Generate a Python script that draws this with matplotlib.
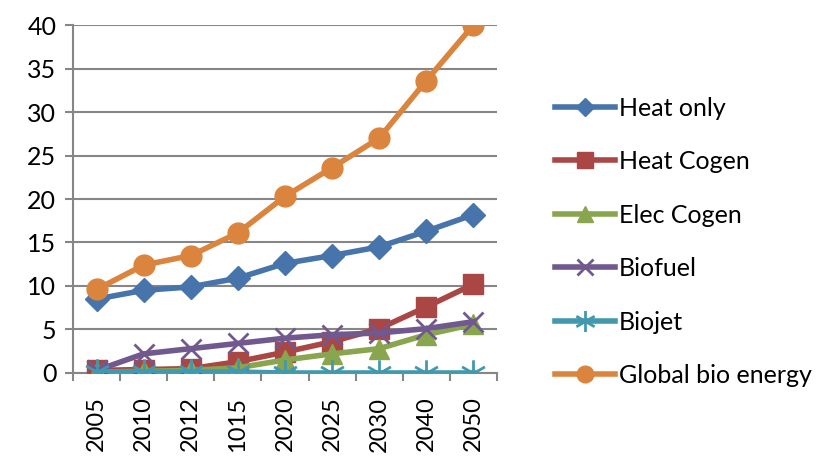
import numpy as np
import matplotlib.pyplot as plt
from matplotlib.path import Path

plt.rcParams['font.family'] = ['Lato', 'DejaVu Sans']

years = ['2005', '2010', '2012', '1015', '2020', '2025', '2030', '2040', '2050']

heat_only = [8.5, 9.5, 9.9, 10.9, 12.6, 13.5, 14.5, 16.3, 18.2]
heat_cogen = [0.3, 0.4, 0.5, 1.3, 2.4, 3.6, 5.1, 7.6, 10.2]
elec_cogen = [0.1, 0.2, 0.3, 0.6, 1.5, 2.2, 2.8, 4.4, 5.6]
biofuel = [0.3, 2.2, 2.8, 3.4, 4.0, 4.4, 4.6, 5.1, 5.9]
biojet = [0.1, 0.1, 0.1, 0.1, 0.0, 0.0, 0.0, 0.0, 0.0]
global_bio = [9.6, 12.4, 13.5, 16.1, 20.3, 23.6, 27.0, 33.6, 40.0]

# Excel style asterisk: three crossing strokes
verts, codes = [], []
for a in np.deg2rad([90, 30, 150]):
    verts += [(np.cos(a), np.sin(a)), (-np.cos(a), -np.sin(a))]
    codes += [Path.MOVETO, Path.LINETO]
star = Path(verts, codes)

series = [
    ('Heat only', heat_only, '#4674AB', 'D', 12),
    ('Heat Cogen', heat_cogen, '#AA4643', 's', 14),
    ('Elec Cogen', elec_cogen, '#89A54E', '^', 14),
    ('Biofuel', biofuel, '#71588F', 'x', 14),
    ('Biojet', biojet, '#4198AF', star, 19),
    ('Global bio energy', global_bio, '#DB843D', 'o', 15),
]

fig = plt.figure(figsize=(8.33, 4.58), dpi=100)
ax = fig.add_axes([0.0876, 0.1856, 0.509, 0.7598])

x = list(range(len(years)))
for name, vals, col, mk, ms in series:
    if name in ('Biofuel', 'Biojet'):
        # line-type markers need a thick stroke
        ax.plot(x, vals, color=col, lw=4, marker=mk, ms=ms, mew=2,
                label=name, zorder=3)
    else:
        ax.plot(x, vals, color=col, lw=4, marker=mk, ms=ms, mec=col,
                label=name, zorder=3)

ax.set_ylim(0, 40)
ax.set_yticks(range(0, 41, 5))
ax.set_xlim(-0.5, len(years) - 0.5)
ax.set_xticks(x)
ax.set_xticklabels(years, rotation=90)
ax.set_xticks([i - 0.5 for i in range(len(years) + 1)], minor=True)

ax.grid(axis='y', color='#868686', lw=1.5)
ax.set_axisbelow(True)
for s in ['top', 'right']:
    ax.spines[s].set_visible(False)
for s in ['left', 'bottom']:
    ax.spines[s].set_color('#868686')
    ax.spines[s].set_linewidth(1.5)

ax.tick_params(axis='y', length=6, width=1.5, color='#868686',
               labelsize=18, pad=6)
ax.tick_params(axis='x', which='major', length=0, labelsize=17, pad=17)
ax.tick_params(axis='x', which='minor', length=6, width=1.5, color='#868686')

fig.legend(loc='center left', bbox_to_anchor=(0.666, 0.472), frameon=False,
           fontsize=18, handlelength=2.4, handletextpad=0.15,
           labelspacing=1.22, borderaxespad=0, borderpad=0,
           markerscale=0.8)

fig.savefig('out.png', dpi=100)
